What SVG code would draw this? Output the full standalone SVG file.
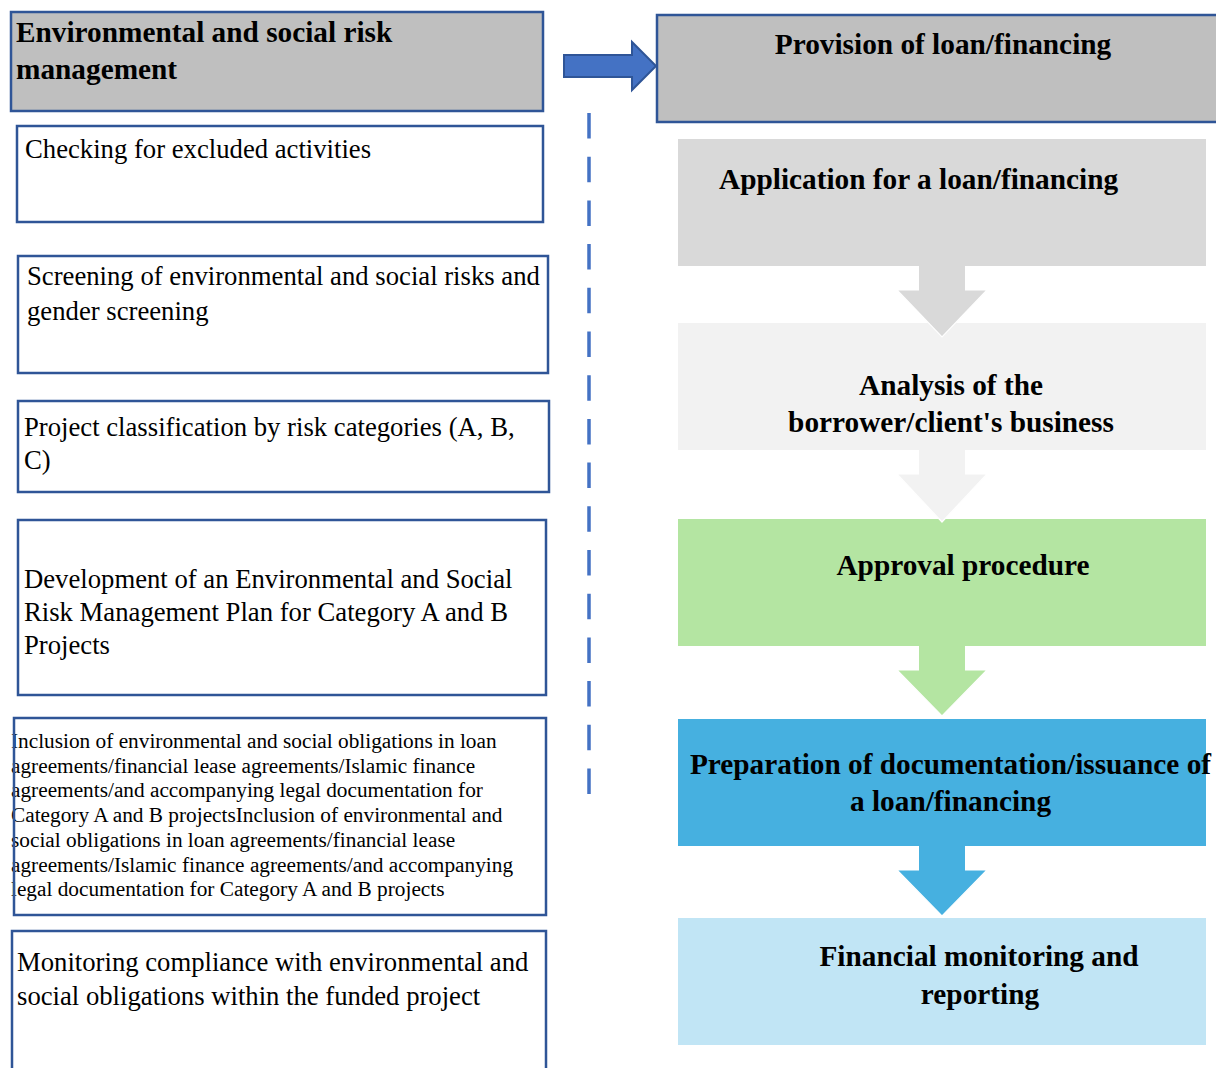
<svg xmlns="http://www.w3.org/2000/svg" width="1216" height="1068" viewBox="0 0 1216 1068">
  <style>
    .box { fill: none; stroke: #2F5597; stroke-width: 2.5; }
    .hdr { fill: #BFBFBF; stroke: #2F5597; stroke-width: 2.5; }
    .reg { font-family: "Liberation Serif", "Times New Roman", serif; font-size: 26.7px; fill: #000; }
    .small { font-family: "Liberation Serif", "Times New Roman", serif; font-size: 21.3px; fill: #000; }
    .bold { font-family: "Liberation Serif", "Times New Roman", serif; font-size: 29.3px; font-weight: bold; fill: #000; }
    .mid { text-anchor: middle; }
    .edge { fill: none; stroke: #FFFFFF; stroke-width: 1.2; stroke-linejoin: miter; }
  </style>
  <rect width="1216" height="1068" fill="#FFFFFF"/>

  <!-- Left column: environmental and social risk management steps -->
  <g id="esrm-header">
    <rect class="hdr" x="11" y="12" width="532" height="99"/>
    <text class="bold" x="16" y="42">Environmental and social risk</text>
    <text class="bold" x="16" y="79">management</text>
  </g>
  <g id="excluded-activities">
    <rect class="box" x="17" y="126" width="526" height="96"/>
    <text class="reg" x="25" y="158">Checking for excluded activities</text>
  </g>
  <g id="screening">
    <rect class="box" x="18" y="256" width="530" height="117"/>
    <text class="reg" x="27" y="285">Screening of environmental and social risks and</text>
    <text class="reg" x="27" y="320">gender screening</text>
  </g>
  <g id="classification">
    <rect class="box" x="18" y="401" width="531" height="91"/>
    <text class="reg" x="24" y="436">Project classification by risk categories (A, B,</text>
    <text class="reg" x="24" y="469">C)</text>
  </g>
  <g id="management-plan">
    <rect class="box" x="18" y="520" width="528" height="175"/>
    <text class="reg" x="24" y="588">Development of an Environmental and Social</text>
    <text class="reg" x="24" y="621">Risk Management Plan for Category A and B</text>
    <text class="reg" x="24" y="654">Projects</text>
  </g>
  <g id="obligations">
    <text class="small" x="11" y="748">Inclusion of environmental and social obligations in loan</text>
    <text class="small" x="11" y="772.7">agreements/financial lease agreements/Islamic finance</text>
    <text class="small" x="11" y="797.4">agreements/and accompanying legal documentation for</text>
    <text class="small" x="11" y="822.1">Category A and B projectsInclusion of environmental and</text>
    <text class="small" x="11" y="846.8">social obligations in loan agreements/financial lease</text>
    <text class="small" x="11" y="871.5">agreements/Islamic finance agreements/and accompanying</text>
    <text class="small" x="11" y="896.2">legal documentation for Category A and B projects</text>
    <rect class="box" x="14" y="718" width="532" height="197"/>
  </g>
  <g id="compliance-monitoring">
    <rect class="box" x="12" y="931" width="534" height="145"/>
    <text class="reg" x="17" y="971">Monitoring compliance with environmental and</text>
    <text class="reg" x="17" y="1005">social obligations within the funded project</text>
  </g>

  <!-- Right column: loan / financing process -->
  <g id="provision">
    <rect class="hdr" x="657" y="15" width="565" height="107"/>
    <text class="bold mid" x="943" y="54">Provision of loan/financing</text>
  </g>
  <g id="application">
    <rect x="678" y="139" width="528" height="127" fill="#D9D9D9"/>
    <text class="bold" x="719" y="189">Application for a loan/financing</text>
  </g>
  <g id="analysis">
    <rect x="678" y="323" width="528" height="127" fill="#F2F2F2"/>
    <text class="bold mid" x="951" y="395">Analysis of the</text>
    <text class="bold mid" x="951" y="432">borrower/client's business</text>
  </g>
  <g id="approval">
    <rect x="678" y="519" width="528" height="127" fill="#B4E5A2"/>
    <text class="bold mid" x="963" y="575">Approval procedure</text>
  </g>
  <g id="preparation">
    <rect x="678" y="719" width="528" height="127" fill="#46B0E0"/>
    <text class="bold mid" x="950.5" y="774">Preparation of documentation/issuance of</text>
    <text class="bold mid" x="950.5" y="811">a loan/financing</text>
  </g>
  <g id="monitoring-reporting">
    <rect x="678" y="918" width="528" height="127" fill="#C1E5F5"/>
    <text class="bold mid" x="979" y="966">Financial monitoring and</text>
    <text class="bold mid" x="980" y="1004">reporting</text>
  </g>

  <!-- Connectors -->
  <g id="connectors">
    <!-- block arrow from the risk management header to the loan process -->
    <polygon points="564,55 632,55 632,42 656,66 632,90 632,77 564,77" fill="#4472C4" stroke="#2F5597" stroke-width="2" stroke-linejoin="miter"/>
    <!-- dashed divider between the two columns -->
    <line x1="589" y1="113" x2="589" y2="795" stroke="#4472C4" stroke-width="3.5" stroke-dasharray="25.5 18.2"/>
    <!-- downward step arrows: filled body, then a thin white rim on the head -->
    <polygon points="919,266 965,266 965,290 987,290 942,337 897,290 919,290" fill="#D9D9D9"/>
    <polyline class="edge" points="965,290 987,290 942,337 897,290 919,290"/>
    <polygon points="919,450 965,450 965,474 987,474 942,522 897,474 919,474" fill="#F2F2F2"/>
    <polyline class="edge" points="965,474 987,474 942,522 897,474 919,474"/>
    <polygon points="919,646 965,646 965,670 987,670 942,716 897,670 919,670" fill="#B4E5A2"/>
    <polyline class="edge" points="965,670 987,670 942,716 897,670 919,670"/>
    <polygon points="919,846 965,846 965,870 987,870 942,916 897,870 919,870" fill="#46B0E0"/>
    <polyline class="edge" points="965,870 987,870 942,916 897,870 919,870"/>
  </g>
</svg>
